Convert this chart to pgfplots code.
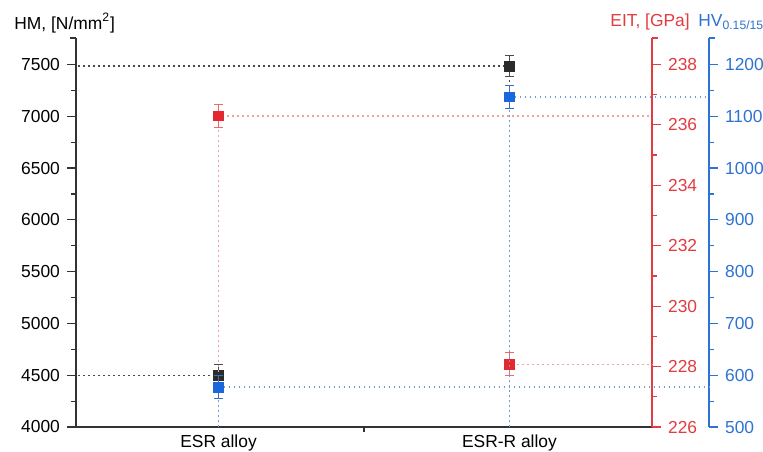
\documentclass[border=0pt]{standalone}
\usepackage{fontspec}
\setmainfont{Liberation Sans}
\usepackage{pgfplots}
\pgfplotsset{compat=1.18}

\definecolor{hmcol}{HTML}{2B2B2B}
\definecolor{eitcol}{HTML}{E5282D}
\definecolor{hvcol}{HTML}{1A66DD}
\definecolor{axgray}{HTML}{333333}
\definecolor{redax}{HTML}{E23B40}
\definecolor{blueax}{HTML}{2E72D2}
\definecolor{hmdrop}{HTML}{4A4A4A}
\definecolor{eitdrop}{HTML}{EFA3A6}
\definecolor{hvdrop}{HTML}{6C9BD8}

\newcommand{\lblfont}{\fontsize{8.7}{10.4}\selectfont}

\pgfplotsset{
  base/.style={
    scale only axis, height=194.5pt, at={(38pt,12pt)}, anchor=south west,
    xmin=0.51,
    tick align=outside, major tick length=4.5pt, minor tick length=2.5pt,
    tick label style={font=\lblfont},
    /pgf/number format/assume math mode=true,
    /pgf/number format/1000 sep={},
    axis line style={-, line width=0.8pt},
    tick style={line width=0.6pt},
    clip=false,
  },
  % drop lines start at the x axis so that overlapping ones share their dot phase
  drop/.style={dash pattern=on 0.9pt off 1.6pt, line width=0.8pt, forget plot},
  pts/.style={only marks, mark=square*, mark size=2.4pt,
    error bars/.cd, y dir=both, y explicit,
    error bar style={line width=0.5pt, #1},
    error mark options={rotate=90, mark size=2.2pt, line width=0.5pt, #1},
    /pgfplots/.cd},
}

\begin{document}
\begin{tikzpicture}
\useasboundingbox (0,0) rectangle (381.5pt,225.5pt);

% HM, left axis
\begin{axis}[
  axis x line*=bottom, axis y line*=left, base,
  width=288pt, xmax=2.49,
  ymin=4000, ymax=7755,
  ytick={4000,4500,...,7500}, minor y tick num=1,
  extra y ticks={7755}, extra y tick labels={},
  extra y tick style={major tick length=3pt},
  xtick={1,2}, xticklabels={ESR alloy, ESR-R alloy},
  minor xtick={1.5}, major x tick style={draw=none},
  minor x tick style={line width=0.6pt},
  xticklabel style={yshift=4pt},
  axis line style={color=axgray},
  tick style={color=axgray},
]
\addplot[drop, hmdrop] coordinates {(1,4000) (1,4499) (0.51,4499)};
\addplot[drop, hmdrop] coordinates {(2,4000) (2,7482) (0.51,7482)};
\addplot[hmcol, pts={hmcol!85!white}] coordinates {
  (1,4499) +- (0,100)
  (2,7482) +- (0,100)
};
\end{axis}

% EIT, first right axis
\begin{axis}[
  axis y line*=right, axis x line=none, base,
  width=288pt, xmax=2.49,
  ymin=226, ymax=238.874,
  ytick={226,228,...,238}, minor y tick num=1,
  extra y ticks={238.874}, extra y tick labels={},
  extra y tick style={major tick length=3pt},
  axis line style={color=redax},
  tick style={color=redax},
  yticklabel style={text=redax},
]
\addplot[drop, eitdrop] coordinates {(1,226) (1,236.3) (2.49,236.3)};
\addplot[drop, eitdrop] coordinates {(2,226) (2,228.07) (2.49,228.07)};
\addplot[eitcol, pts={eitcol!70!white}] coordinates {
  (1,236.3) +- (0,0.38)
  (2,228.07) +- (0,0.38)
};
\end{axis}

% HV, second right axis
\begin{axis}[
  axis y line*=right, axis x line=none, base,
  width=316.5pt, xmax=2.686,
  ymin=500, ymax=1251,
  ytick={500,600,...,1200}, minor y tick num=1,
  extra y ticks={1251}, extra y tick labels={},
  extra y tick style={major tick length=3pt},
  axis line style={color=blueax},
  tick style={color=blueax},
  yticklabel style={text=blueax},
]
\addplot[drop, hvdrop, line width=0.7pt] coordinates {(1,500) (1,577) (2.686,577)};
\addplot[drop, hvdrop, line width=0.7pt] coordinates {(2,500) (2,1137) (2.686,1137)};
\addplot[hvcol, pts={hvcol!70!gray}] coordinates {
  (1,577) +- (0,22)
  (2,1137) +- (0,22)
};
\end{axis}

\node[anchor=base west, inner sep=0pt, font=\lblfont, text=black] at (7pt,211pt) {HM, [N/mm\textsuperscript{2}]};
\node[anchor=base west, inner sep=0pt, font=\lblfont, text=redax] at (305pt,212pt) {EIT, [GPa]};
\node[anchor=base west, inner sep=0pt, font=\lblfont, text=blueax] at (349pt,212pt) {HV\textsubscript{0.15/15}};
\end{tikzpicture}
\end{document}
